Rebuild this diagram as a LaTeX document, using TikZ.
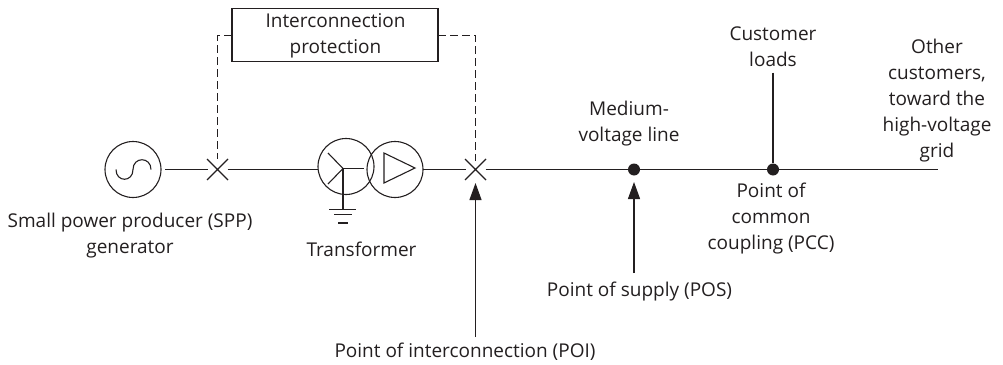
\documentclass[tikz,border=0pt]{standalone}
\usepackage{fontspec}
\setmainfont{Open Sans}
\usetikzlibrary{arrows.meta,shapes.misc,calc}
\definecolor{ink}{RGB}{35,31,32}
\tikzset{
  x=1pt,y=-1pt,
  wire/.style={line width=1.1pt,ink},
  ctl/.style={line width=1.1pt,ink,dash pattern=on 8pt off 4pt},
  disc/.style={circle,draw=ink,line width=1.1pt,minimum size=56pt,inner sep=0pt,outer sep=0pt},
  crossm/.style={cross out,draw=ink,line width=1.1pt,minimum size=21pt,inner sep=0pt,outer sep=0pt},
  dotm/.style={circle,fill=ink,minimum size=12pt,inner sep=0pt},
  lab/.style={font=\fontsize{19}{26}\selectfont,align=center,text=ink,inner sep=0pt},
  boxm/.style={draw=ink,line width=1.1pt,minimum width=206pt,minimum height=53.5pt,inner sep=0pt,outer sep=0pt},
  arr/.style={wire,-{Triangle[length=17pt,width=12pt]}}
}
\begin{document}
\begin{tikzpicture}
\useasboundingbox (0,0) rectangle (1003,364);
\node[disc] (gen) at (133,169.5) {};
\node[crossm] (sw1) at (217.5,169.5) {};
\node[crossm] (sw2) at (475.5,169.5) {};
\node[disc] (ty) at (346,166.5) {};
\node[disc] (td) at (395,169.5) {};
\node[boxm] (prot) at (335,35) {};
\node[lab] (ptext) at (335.5,36) {Interconnection\\protection};
\node[dotm] (pos) at (634,169.5) {};
\node[dotm] (pcc) at (773,169.5) {};
\coordinate (end) at (938,169.5);
\coordinate (loadtop) at (773,72.5);
\coordinate (posfoot) at (634,273);
\coordinate (poifoot) at (475.5,337);
\coordinate (l1) at (217.5,35.5);
\coordinate (r1) at (475.5,35.5);
\coordinate (star) at (343,168.5);
\coordinate (gnd) at (343,209);
% sine
\draw[wire] (116,169.5) .. controls (116,182.5) and (133,182.5) .. (133,169.5) .. controls (133,156.5) and (151,156.5) .. (151,169.5);
% wires
\draw[wire] ($(gen.center)+(32,0)$) -- ($(sw1.center)+(-10,0)$);
\draw[wire] ($(sw1.center)+(10,0)$) -- (ty.west |- sw1);
\draw[wire] (td.east |- sw2) -- ($(sw2.center)+(-10,0)$);
\draw[wire] ($(sw2.center)+(10,0)$) -- (end);
\draw[wire] (loadtop) -- (pcc);
\draw[ctl] (prot.west |- l1) -- (l1) -- ($(sw1.center)+(0,-11)$);
\draw[ctl] (prot.east |- r1) -- (r1) -- ($(sw2.center)+(0,-9)$);
\draw[arr] (posfoot) -- ($(pos.center)+(0,12.5)$);
\draw[arr] (poifoot) -- ($(sw2.center)+(0,13.5)$);
% wye
\draw[wire] (star) -- (364,168.5);
\draw[wire] (328,153) -- (star) -- (328,184);
\draw[wire] (star) -- (gnd);
\draw[wire] (329,209.5) -- (356,209.5);
\draw[wire] (334,214.5) -- (352,214.5);
\draw[wire] (338,223) -- (348,223);
% triangle
\draw[wire] (384,153) -- (415,168) -- (384,183) -- cycle;
% labels
\node[lab] (t1) at (130,236) {Small power producer (SPP)\\generator};
\node[lab] (t2) at (361.5,249) {Transformer};
\node[lab] (t3) at (629,124) {Medium-\\voltage line};
\node[lab] (t4) at (773,47) {Customer\\loads};
\node[lab] (t5) at (937,100.5) {Other\\customers,\\toward the\\high-voltage\\grid};
\node[lab] (t6) at (771,219) {Point of\\common\\coupling (PCC)};
\node[lab] (t7) at (639.5,292) {Point of supply (POS)};
\node[lab] (t8) at (465,352) {Point of interconnection (POI)};
\end{tikzpicture}
\end{document}
